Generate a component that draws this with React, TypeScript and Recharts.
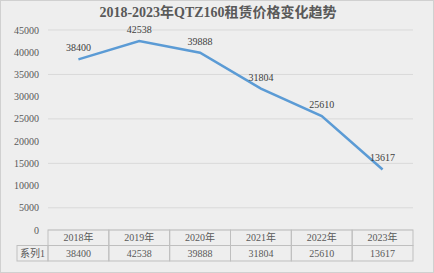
import React from 'react';
import { LineChart, Line, XAxis, YAxis, CartesianGrid, LabelList } from 'recharts';

const years = ['2018年', '2019年', '2020年', '2021年', '2022年', '2023年'];
const prices = [38400, 42538, 39888, 31804, 25610, 13617];
const yTicks = [0, 5000, 10000, 15000, 20000, 25000, 30000, 35000, 40000, 45000];
const seriesName = '系列1';
const title = '2018-2023年QTZ160租赁价格变化趋势';

const data = years.map((y, i) => ({ year: y, price: prices[i] }));

const FONT = "'Liberation Serif', 'Noto Sans CJK SC', serif";
const TEXT = '#595959';
const LINE_C = '#bfbfbf';

const CELL_W = 365 / 6;
const ROW_H = 15.5;

const TableTick = (props: any) => {
  const { x, y, payload, index } = props;
  const left = x - CELL_W / 2;
  return (
    <g>
      <rect x={left} y={y} width={CELL_W} height={ROW_H} fill="none" stroke={LINE_C} strokeWidth={1} />
      <rect x={left} y={y + ROW_H} width={CELL_W} height={ROW_H} fill="none" stroke={LINE_C} strokeWidth={1} />
      <text x={x} y={y + ROW_H / 2 + 3.5} textAnchor="middle" fontSize={10} fill={TEXT} style={{ fontFamily: FONT }}>
        {payload.value}
      </text>
      <text x={x} y={y + ROW_H * 1.5 + 3.5} textAnchor="middle" fontSize={10} fill={TEXT} style={{ fontFamily: FONT }}>
        {prices[index]}
      </text>
      {index === 0 && (
        <g>
          <rect x={left - 31} y={y + ROW_H} width={31} height={ROW_H} fill="none" stroke={LINE_C} strokeWidth={1} />
          <text x={left - 15.5} y={y + ROW_H * 1.5 + 3.5} textAnchor="middle" fontSize={10} fill={TEXT} style={{ fontFamily: FONT }}>
            {seriesName}
          </text>
        </g>
      )}
    </g>
  );
};

export default function App() {
  return (
    <div
      style={{
        position: 'absolute',
        left: 0,
        top: 0,
        width: 434,
        height: 273,
        background: '#eeeeee',
        border: '1px solid #d0d0d0',
        boxSizing: 'border-box',
        overflow: 'hidden',
        fontFamily: FONT,
      }}
    >
      <div
        style={{
          position: 'absolute',
          left: 0,
          top: 2,
          width: 434,
          textAlign: 'center',
          fontWeight: 'bold',
          fontSize: 14,
          color: TEXT,
          lineHeight: '20px',
        }}
      >
        {title}
      </div>
      <div style={{ position: 'absolute', left: -1, top: -1 }}>
        <LineChart width={434} height={273} data={data} margin={{ top: 30, right: 21, bottom: 11, left: 0 }} style={{ fontFamily: FONT }}>
          <CartesianGrid vertical={false} stroke="#d9d9d9" />
          <XAxis
            dataKey="year"
            scale="band"
            axisLine={false}
            tickLine={false}
            tickSize={0}
            tickMargin={0}
            height={32}
            interval={0}
            tick={<TableTick />}
          />
          <YAxis
            domain={[0, 45000]}
            ticks={yTicks}
            width={48}
            axisLine={false}
            tickLine={false}
            tickSize={0}
            tickMargin={9}
            tick={{ fontSize: 10, fill: TEXT, style: { fontFamily: FONT } }}
          />
          <Line
            type="linear"
            dataKey="price"
            stroke="#5b9bd5"
            strokeWidth={2.5}
            dot={false}
            isAnimationActive={false}
          >
            <LabelList
              dataKey="price"
              position="top"
              offset={8}
              fill="#404040"
              fontSize={10}
              style={{ fontFamily: FONT }}
            />
          </Line>
        </LineChart>
      </div>
    </div>
  );
}
